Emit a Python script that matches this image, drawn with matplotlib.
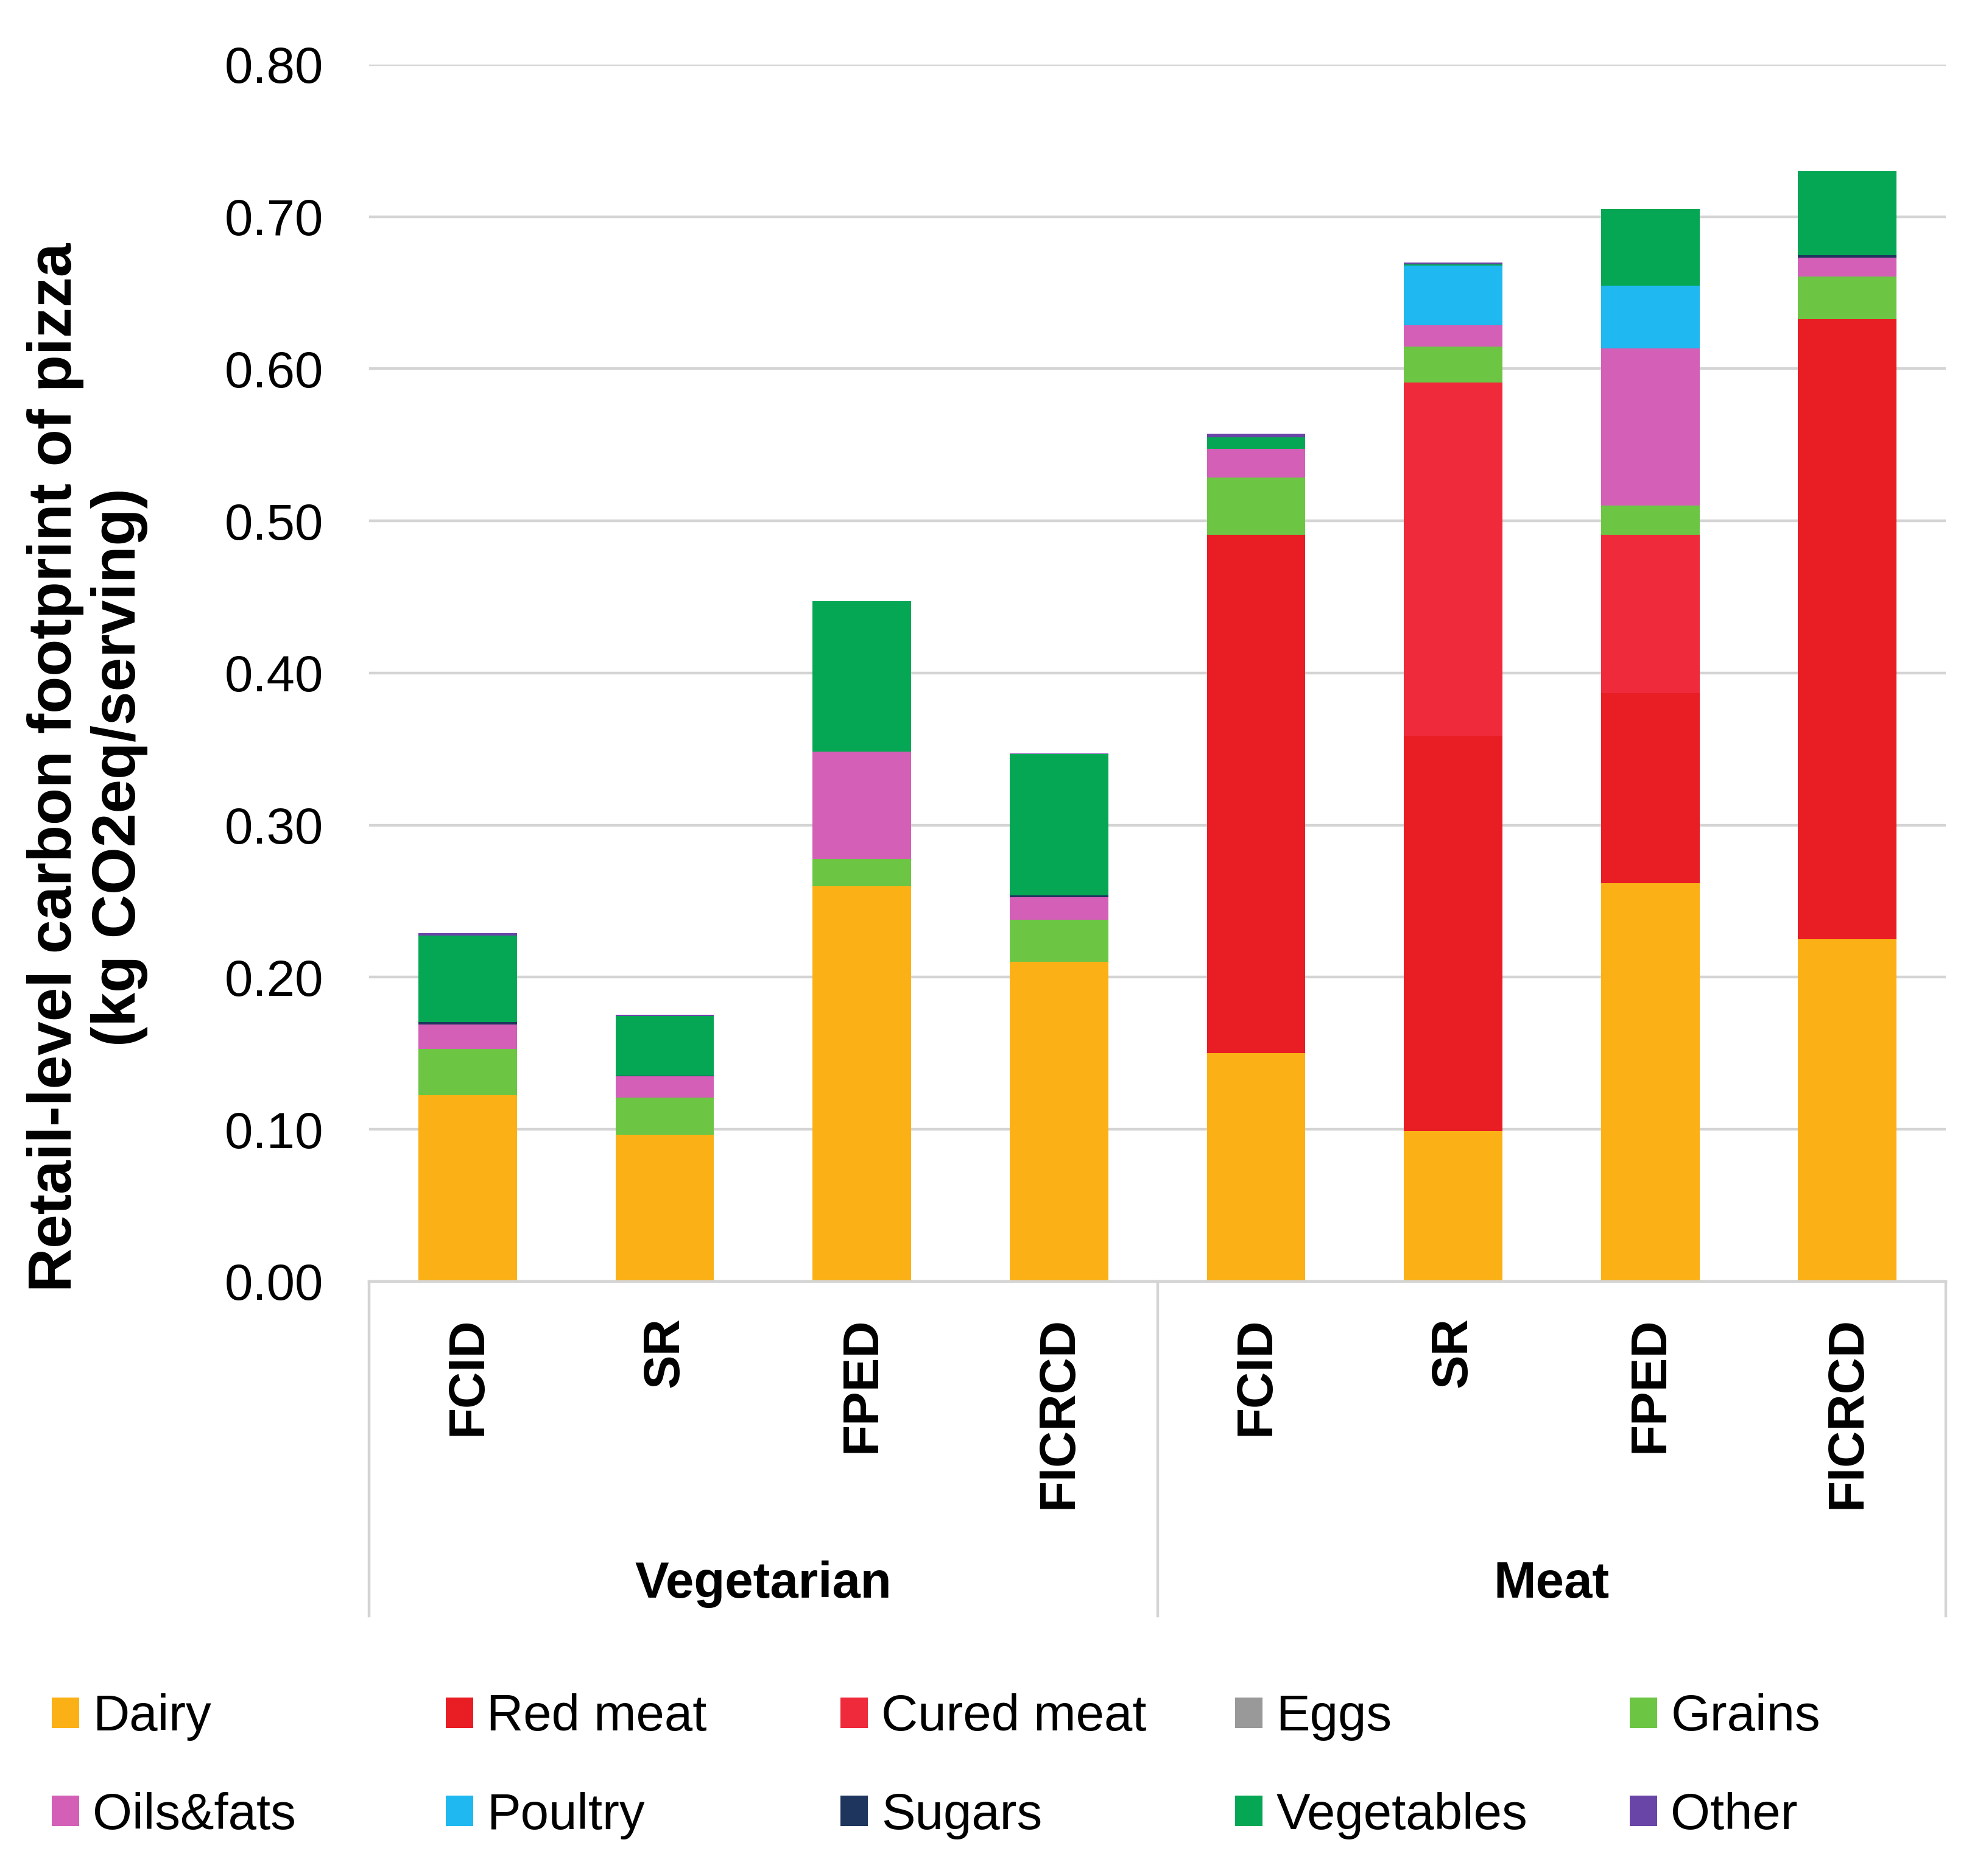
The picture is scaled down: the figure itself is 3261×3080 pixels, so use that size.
import numpy as np
import matplotlib
matplotlib.use("Agg")
import matplotlib.pyplot as plt
import matplotlib.transforms as mtransforms
from matplotlib.patches import Patch

plt.rcParams['font.family'] = ['Liberation Sans', 'DejaVu Sans']

# categories (x axis)
methods = ["FCID", "SR", "FPED", "FICRCD", "FCID", "SR", "FPED", "FICRCD"]
groups = ["Vegetarian", "Meat"]

# food group contributions, kg CO2eq/serving (stacked bottom -> top)
dairy      = [0.1225, 0.0965, 0.260, 0.210, 0.150, 0.099, 0.262, 0.225]
red_meat   = [0, 0, 0, 0, 0.341, 0.2597, 0.1246, 0.4077]
cured_meat = [0, 0, 0, 0, 0, 0.2323, 0.1042, 0]
eggs       = [0, 0, 0, 0, 0, 0, 0, 0]
grains     = [0.0305, 0.0245, 0.018, 0.028, 0.0375, 0.0235, 0.0192, 0.0279]
oils_fats  = [0.0160, 0.014, 0.0704, 0.0145, 0.019, 0.014, 0.1034, 0.0124]
poultry    = [0, 0, 0, 0, 0, 0.0395, 0.0413, 0]
sugars     = [0.0015, 0.0005, 0, 0.0015, 0, 0, 0, 0.0015]
vegetables = [0.0570, 0.039, 0.099, 0.0928, 0.0075, 0.0007, 0.0503, 0.0555]
other      = [0.0015, 0.001, 0, 0.0005, 0.0025, 0.0013, 0, 0]

series = [
    ("Dairy", dairy, "#FBB116"),
    ("Red meat", red_meat, "#E91D24"),
    ("Cured meat", cured_meat, "#EE2A3B"),
    ("Eggs", eggs, "#999999"),
    ("Grains", grains, "#6CC644"),
    ("Oils&fats", oils_fats, "#D35FB7"),
    ("Poultry", poultry, "#1FB8F0"),
    ("Sugars", sugars, "#1E355E"),
    ("Vegetables", vegetables, "#06A754"),
    ("Other", other, "#6A45A8"),
]

fig = plt.figure(figsize=(16.31, 15.4), dpi=200)
ax = fig.add_axes([0.1858, 0.3169, 0.9795 - 0.1858, 0.9656 - 0.3169])

x = np.arange(len(methods))
bottom = np.zeros(len(methods))
handles = []
for name, vals, col in series:
    vals = np.array(vals, dtype=float)
    ax.bar(x, vals, bottom=bottom, width=0.5, color=col, zorder=3)
    bottom += vals
    handles.append(Patch(facecolor=col, label=name))

ax.set_xlim(-0.5, len(methods) - 0.5)
ax.set_ylim(0, 0.8)
ax.set_yticks(np.arange(0, 0.81, 0.1))
ax.set_yticklabels([f"{v:.2f}" for v in np.arange(0, 0.81, 0.1)], fontsize=30)
ax.tick_params(axis='y', length=0, pad=27)
ax.yaxis.grid(True, color="#D4D4D4", linewidth=1.6, zorder=0)
ax.set_axisbelow(True)
for s in ["top", "right", "left"]:
    ax.spines[s].set_visible(False)
ax.spines["bottom"].set_color("#D4D4D4")
ax.spines["bottom"].set_linewidth(1.6)
ax.spines["bottom"].set_zorder(4)

ax.set_xticks(x)
ax.set_xticklabels(methods, rotation=90, fontsize=30, fontweight='bold')
ax.tick_params(axis='x', length=0, pad=21)

# group boxes under the axis
trans = mtransforms.blended_transform_factory(ax.transData, ax.transAxes)
for xb in [-0.5, 3.5, 7.5]:
    ax.plot([xb, xb], [0, -0.275], transform=trans, color="#D4D4D4",
            linewidth=1.6, clip_on=False)
for i, g in enumerate(groups):
    ax.text(1.5 + 4 * i, -0.249, g, transform=trans, ha='center', va='center',
            fontsize=30, fontweight='bold')

fig.text(0.044, 0.591, "Retail-level carbon footprint of pizza\n(kg CO2eq/serving)",
         rotation=90, ha='center', va='center', fontsize=36, fontweight='bold',
         linespacing=1.15)

# legend: 5 columns x 2 rows, row-wise order like excel
col_x = [85, 732, 1380, 2028, 2676]
for j in range(5):
    fig.legend(handles=[handles[j], handles[j + 5]], loc='center left',
               bbox_to_anchor=(col_x[j] / 3262, 1 - 2900 / 3080),
               frameon=False, fontsize=30, handlelength=0.54, handleheight=0.54,
               handletextpad=0.27, labelspacing=1.0, borderpad=0,
               borderaxespad=0)

fig.savefig("out.png", dpi=200)
